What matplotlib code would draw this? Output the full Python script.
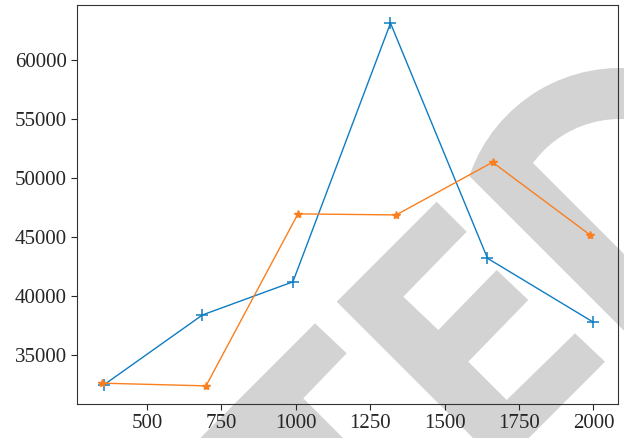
import matplotlib
matplotlib.use('Agg')
import matplotlib.pyplot as plt
from matplotlib.patches import Polygon, Wedge

# two runs, sampled at slightly different x positions
blue_x = [355, 686, 990, 1318, 1644, 2000]
blue_y = [32450, 38380, 41190, 63150, 43190, 37760]
orange_x = [347, 698, 1007, 1337, 1661, 1989]
orange_y = [32590, 32360, 46960, 46870, 51340, 45170]

plt.rcParams['font.family'] = ['Liberation Serif', 'DejaVu Serif']

W, H = 624, 438
fig = plt.figure(figsize=(W / 100, H / 100), dpi=100)
fig.patch.set_facecolor('white')

# stamp drawn behind the plot, in pixel units (y down)
bg = fig.add_axes([0, 0, 1, 1], zorder=-1)
bg.set_xlim(0, W)
bg.set_ylim(H, 0)
bg.axis('off')
stamp = '#d3d3d3'
letter_t = [(315, 323.3), (346.7, 353.3), (303.3, 398.3), (403.3, 498.3), (115, 523.3)]
letter_e = [(336.7, 301.7), (436.7, 201.7), (466.7, 231.7), (403.3, 296.7),
            (438.3, 330), (496.7, 270), (528.3, 300), (468.3, 361.7),
            (506.7, 400), (575, 333.3), (605, 361.7), (500.9, 465.9)]
d_stem = [(468.3, 175), (520, 150), (533.3, 163.3), (733.3, 363.3), (668.3, 375)]
for pts in (letter_t, letter_e, d_stem):
    bg.add_patch(Polygon(pts, closed=True, facecolor=stamp, edgecolor='none'))
bg.add_patch(Wedge((620, 227), 159, 199, 360, width=51, facecolor=stamp, edgecolor='none'))

ax = fig.add_axes([77 / W, 1 - 404 / H, (618 - 77) / W, (404 - 5) / H], zorder=1)
ax.set_facecolor('none')

ax.plot(blue_x, blue_y, color='#0e7cc2', lw=1.0, marker='+', ms=8, mew=1.1)
ax.plot(orange_x, orange_y, color='#fb7f1e', lw=1.0, marker='*', ms=6)

ax.set_xticks([500, 750, 1000, 1250, 1500, 1750, 2000])
ax.set_yticks([35000, 40000, 45000, 50000, 55000, 60000])
ax.tick_params(labelsize=15, colors='#262626', length=4)
for s in ax.spines.values():
    s.set_color('#333333')

fig.savefig('out.png', dpi=100)
